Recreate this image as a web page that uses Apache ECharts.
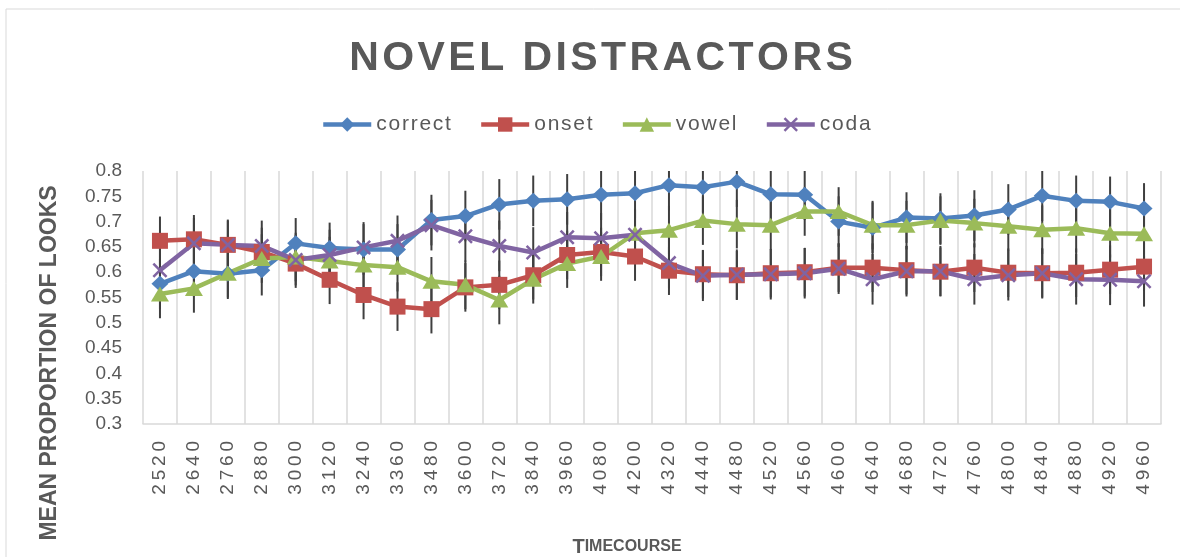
<!DOCTYPE html>
<html>
<head>
<meta charset="utf-8">
<script src="https://cdn.jsdelivr.net/npm/echarts@6/dist/echarts.min.js"></script>
<style>
  html, body { margin: 0; padding: 0; background: #fff; }
  #chart { width: 1180px; height: 557px; }
</style>
</head>
<body>
<div id="chart"></div>
<script>
// timecourse bins (ms)
const categories = ['2520', '2640', '2760', '2880', '3000', '3120', '3240', '3360', '3480', '3600',
  '3720', '3840', '3960', '4080', '4200', '4320', '4440', '4480', '4520', '4560',
  '4600', '4640', '4680', '4720', '4760', '4800', '4840', '4880', '4920', '4960'];

const correct = [0.577, 0.602, 0.597, 0.604, 0.657, 0.648, 0.645, 0.645, 0.703, 0.711,
  0.734, 0.741, 0.744, 0.753, 0.756, 0.772, 0.768, 0.779, 0.754, 0.753,
  0.700, 0.688, 0.708, 0.706, 0.712, 0.724, 0.751, 0.741, 0.739, 0.726];
const onset = [0.662, 0.665, 0.654, 0.640, 0.617, 0.585, 0.555, 0.532, 0.527, 0.570,
  0.575, 0.594, 0.634, 0.640, 0.631, 0.603, 0.596, 0.594, 0.598, 0.600,
  0.609, 0.609, 0.604, 0.601, 0.609, 0.599, 0.598, 0.599, 0.605, 0.611];
const vowel = [0.557, 0.568, 0.598, 0.627, 0.630, 0.622, 0.614, 0.610, 0.582, 0.575,
  0.545, 0.586, 0.617, 0.631, 0.677, 0.683, 0.702, 0.695, 0.693, 0.720,
  0.720, 0.693, 0.693, 0.702, 0.697, 0.691, 0.684, 0.687, 0.677, 0.676];
const coda = [0.604, 0.657, 0.654, 0.652, 0.624, 0.634, 0.649, 0.662, 0.693, 0.671,
  0.652, 0.639, 0.669, 0.667, 0.674, 0.618, 0.593, 0.595, 0.596, 0.598,
  0.607, 0.586, 0.602, 0.602, 0.586, 0.594, 0.598, 0.586, 0.585, 0.582];

// half length of the error bars, one per series
const errHalf = [0.05, 0.048, 0.048, 0.05];

const seriesNames = ['correct', 'onset', 'vowel', 'coda'];
const seriesData = [correct, onset, vowel, coda];
const colors = ['#4F81BD', '#C0504D', '#9BBB59', '#8064A2'];
const xMark = 'path://M0,1.2 L1.2,0 L5,3.8 L8.8,0 L10,1.2 L6.2,5 L10,8.8 L8.8,10 L5,6.2 L1.2,10 L0,8.8 L3.8,5 Z';
const symbols = ['diamond', 'rect', 'triangle', xMark];
const symbolSizes = [[17, 16], 16, [18, 15], 15];

const FONT = '"Liberation Sans", Arial, sans-serif';
const TXT = '#595959';
const spaced = (s, sep) => String(s).split('').join(sep);

const chart = echarts.init(document.getElementById('chart'));

const series = [];
seriesData.forEach((vals, k) => {
  // error bars
  series.push({
    name: seriesNames[k] + ' err',
    type: 'custom',
    clip: true,
    z: 1,
    silent: true,
    data: vals.map((v, i) => [i, v, errHalf[k]]),
    encode: { x: 0, y: 1 },
    renderItem: function (params, api) {
      const i = api.value(0), v = api.value(1), e = api.value(2);
      const top = api.coord([i, v + e]);
      const bot = api.coord([i, v - e]);
      return {
        type: 'line',
        shape: { x1: top[0], y1: top[1], x2: bot[0], y2: bot[1] },
        style: { stroke: '#3f3f3f', lineWidth: 2 }
      };
    }
  });
  series.push({
    name: seriesNames[k],
    type: 'line',
    z: 3,
    data: vals,
    symbol: symbols[k],
    symbolSize: symbolSizes[k],
    showAllSymbol: true,
    lineStyle: { color: colors[k], width: 4.5 },
    itemStyle: { color: colors[k], borderColor: colors[k], borderWidth: 0 }
  });
});

chart.setOption({
  animation: false,
  backgroundColor: '#fff',
  textStyle: { fontFamily: FONT },
  title: {
    text: spaced('NOVEL DISTRACTORS', '\u200A'),
    left: 596,
    top: 33,
    textAlign: 'center',
    textStyle: { fontFamily: FONT, fontSize: 41, fontWeight: 'bold', color: TXT }
  },
  legend: {
    data: seriesNames,
    left: 316,
    top: 109,
    itemWidth: 48,
    itemHeight: 18,
    itemGap: 28,
    lineStyle: { width: 4.5 },
    formatter: name => spaced(name, '\u200A'),
    textStyle: { fontFamily: FONT, fontSize: 21, color: TXT }
  },
  grid: { left: 143, right: 19, top: 171, bottom: 133, outerBoundsMode: 'none' },
  xAxis: {
    type: 'category',
    data: categories,
    boundaryGap: true,
    axisLine: { lineStyle: { color: '#d9d9d9', width: 1.5 } },
    axisTick: { show: false },
    splitLine: { show: true, interval: 0, lineStyle: { color: '#d9d9d9', width: 1.5 } },
    axisLabel: {
      interval: 0,
      rotate: 90,
      margin: 17,
      fontFamily: FONT,
      fontSize: 19,
      color: TXT,
      formatter: v => spaced(v, '\u2009')
    }
  },
  yAxis: {
    type: 'value',
    min: 0.3,
    max: 0.8,
    interval: 0.05,
    axisLine: { show: false },
    axisTick: { show: false },
    splitLine: { show: false },
    axisLabel: {
      margin: 21,
      fontFamily: FONT,
      fontSize: 19,
      color: TXT,
      formatter: v => String(parseFloat(v.toFixed(2)))
    }
  },
  graphic: [
    {
      type: 'rect',
      silent: true,
      shape: { x: 6, y: 9, width: 1200, height: 600 },
      style: { fill: 'none', stroke: '#d9d9d9', lineWidth: 1 }
    },
    {
      type: 'text',
      x: 627,
      y: 547,
      style: {
        text: '{a|T}{b|IMECOURSE}',
        align: 'center',
        verticalAlign: 'middle',
        rich: {
          a: { fontFamily: FONT, fontSize: 20, fontWeight: 'bold', fill: TXT },
          b: { fontFamily: FONT, fontSize: 16, fontWeight: 'bold', fill: TXT }
        }
      }
    },
    {
      type: 'text',
      x: 50,
      y: 363,
      rotation: Math.PI / 2,
      style: {
        text: 'MEAN PROPORTION OF LOOKS',
        align: 'center',
        verticalAlign: 'middle',
        fontFamily: FONT,
        fontSize: 23,
        fontWeight: 'bold',
        fill: TXT
      }
    }
  ],
  series: series
});
</script>
</body>
</html>
